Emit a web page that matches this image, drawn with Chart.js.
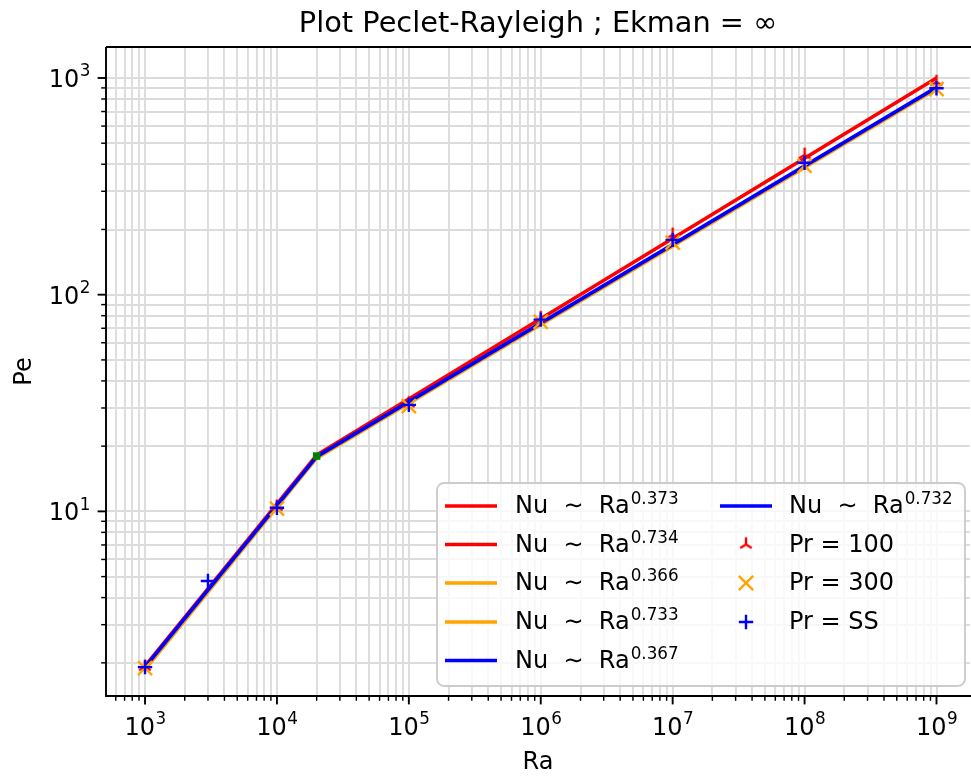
<!DOCTYPE html>
<html>
<head>
<meta charset="utf-8">
<script src="https://cdn.jsdelivr.net/npm/chart.js@4.4.1/dist/chart.umd.min.js"></script>
<style>
  html, body { margin: 0; padding: 0; background: #fff; }
</style>
</head>
<body>
<canvas id="myChart" width="971" height="776"></canvas>
<script>
// Rayleigh numbers of the runs
var ra = [1e3, 3e3, 1e4, 1e5, 1e6, 1e7, 1e8, 1e9];
// Peclet numbers (null = no run at that Ra)
var pePr100 = [1.92, null, 10.5, 31.5, 78, 189, 442, 958];
var pePr300 = [1.89, null, 10.3, 30.6, 75, 174, 393, 890];
var peSS = [1.91, 4.77, 10.4, 31.0, 76.7, 179, 406, 896];

// power law fits, two segments joined at the transition Ra
var fitRa = [1e3, 2e4, 1e9];
var fitPr100 = [1.93, 18.2, 1000];
var fitPr300 = [1.86, 17.6, 890];
var fitSS = [1.91, 17.9, 905];
var expLow = ['0.734', '0.733', '0.732'];
var expHigh = ['0.373', '0.366', '0.367'];

var transitionRa = [2e4];
var transitionPe = [18.0];

// tick labels are 10^n
var xTickExp = [3, 4, 5, 6, 7, 8, 9];
var yTickExp = [1, 2, 3];

var FONT = "'DejaVu Sans', sans-serif";

function pts(xs, ys) {
  var out = [];
  for (var i = 0; i < xs.length; i++) {
    if (ys[i] != null) out.push({x: xs[i], y: ys[i]});
  }
  return out;
}

// matplotlib tri_up marker as an image
function triMarker(color) {
  var c = document.createElement('canvas');
  c.width = 20; c.height = 20;
  var g = c.getContext('2d');
  g.strokeStyle = color;
  g.lineWidth = 2.4;
  g.beginPath();
  g.moveTo(10, 10); g.lineTo(10, 2.8);
  g.moveTo(10, 10); g.lineTo(15.76, 13.6);
  g.moveTo(10, 10); g.lineTo(4.24, 13.6);
  g.stroke();
  return c;
}
var tri = triMarker('#ff0000');

function fitLine(xs, ys, color, text, sup, order) {
  return {
    type: 'line', data: pts(xs, ys), borderColor: color, backgroundColor: color,
    borderWidth: 3.6, pointRadius: 0, tension: 0, fill: false, order: order,
    legendText: text, legendSup: sup, legendKind: 'line'
  };
}
function markers(ys, color, style, radius, text, order) {
  return {
    type: 'line', data: pts(ra, ys), showLine: false, borderColor: color,
    backgroundColor: 'rgba(0,0,0,0)', pointStyle: style, pointRadius: radius,
    pointBorderWidth: 2.4, pointHoverRadius: radius, order: order,
    legendText: text, legendKind: 'marker'
  };
}

var datasets = [
  fitLine(fitRa.slice(1), fitPr100.slice(1), '#ff0000', 'Nu  \u223C  Ra', expHigh[0], 20),
  fitLine(fitRa.slice(0, 2), fitPr100.slice(0, 2), '#ff0000', 'Nu  \u223C  Ra', expLow[0], 19),
  fitLine(fitRa.slice(1), fitPr300.slice(1), '#ffa500', 'Nu  \u223C  Ra', expHigh[1], 18),
  fitLine(fitRa.slice(0, 2), fitPr300.slice(0, 2), '#ffa500', 'Nu  \u223C  Ra', expLow[1], 17),
  fitLine(fitRa.slice(1), fitSS.slice(1), '#0000ff', 'Nu  \u223C  Ra', expHigh[2], 16),
  fitLine(fitRa.slice(0, 2), fitSS.slice(0, 2), '#0000ff', 'Nu  \u223C  Ra', expLow[2], 15),
  markers(pePr100, '#ff0000', tri, 7, 'Pr = 100', 14),
  markers(pePr300, '#ffa500', 'crossRot', 10, 'Pr = 300', 13),
  markers(peSS, '#0000ff', 'cross', 7.2, 'Pr = SS', 12),
  {
    type: 'line', data: pts(transitionRa, transitionPe), showLine: false,
    borderColor: '#008000', backgroundColor: '#008000', pointStyle: 'rect',
    pointRadius: 5.3, pointBorderWidth: 0, order: 11, legendKind: 'none'
  }
];

function isPow10(v) {
  var l = Math.log10(v);
  return Math.abs(l - Math.round(l)) < 1e-9;
}
function logTicks(scale) {
  var t = [];
  var e0 = Math.floor(Math.log10(scale.min)), e1 = Math.ceil(Math.log10(scale.max));
  for (var e = e0; e <= e1; e++) {
    for (var m = 1; m < 10; m++) {
      var v = m * Math.pow(10, e);
      if (v >= scale.min && v <= scale.max) t.push({value: v, major: m === 1});
    }
  }
  scale.ticks = t;
}

function powLabel(ctx, exp, x, y, align) {
  ctx.font = '24px ' + FONT;
  var w1 = ctx.measureText('10').width;
  ctx.font = '16.8px ' + FONT;
  var w2 = ctx.measureText(String(exp)).width;
  var x0 = align === 'center' ? x - (w1 + w2) / 2 : x - (w1 + w2);
  ctx.textAlign = 'left';
  ctx.textBaseline = 'alphabetic';
  ctx.font = '24px ' + FONT;
  ctx.fillText('10', x0, y);
  ctx.font = '16.8px ' + FONT;
  ctx.fillText(String(exp), x0 + w1 + 0.5, y - 10.5);
}

var decor = {
  id: 'decor',
  afterDatasetsDraw: function (chart) {
    var ctx = chart.ctx, a = chart.chartArea;
    var xs = chart.scales.x, ys = chart.scales.y;
    ctx.save();
    ctx.strokeStyle = '#000';
    ctx.fillStyle = '#000';
    // spines
    ctx.lineWidth = 1.9;
    ctx.beginPath();
    ctx.moveTo(a.left, a.top); ctx.lineTo(a.right + 2, a.top);
    ctx.moveTo(a.left, a.top); ctx.lineTo(a.left, a.bottom);
    ctx.lineTo(a.right + 2, a.bottom);
    ctx.stroke();
    // tick marks
    xs.ticks.forEach(function (t) {
      var px = xs.getPixelForValue(t.value);
      var major = isPow10(t.value);
      ctx.lineWidth = major ? 1.9 : 1.45;
      ctx.beginPath();
      ctx.moveTo(px, a.bottom);
      ctx.lineTo(px, a.bottom + (major ? 8.4 : 4.8));
      ctx.stroke();
    });
    ys.ticks.forEach(function (t) {
      var py = ys.getPixelForValue(t.value);
      var major = isPow10(t.value);
      ctx.lineWidth = major ? 1.9 : 1.45;
      ctx.beginPath();
      ctx.moveTo(a.left, py);
      ctx.lineTo(a.left - (major ? 8.4 : 4.8), py);
      ctx.stroke();
    });
    // tick labels
    xTickExp.forEach(function (e) {
      powLabel(ctx, e, xs.getPixelForValue(Math.pow(10, e)), a.bottom + 38.5, 'center');
    });
    yTickExp.forEach(function (e) {
      powLabel(ctx, e, a.left - 16, ys.getPixelForValue(Math.pow(10, e)) + 9, 'right');
    });
    // axis titles
    ctx.font = '24px ' + FONT;
    ctx.textAlign = 'center';
    ctx.textBaseline = 'alphabetic';
    ctx.fillText('Ra', (a.left + a.right) / 2, 769);
    ctx.save();
    ctx.translate(31, (a.top + a.bottom) / 2);
    ctx.rotate(-Math.PI / 2);
    ctx.fillText('Pe', 0, 0);
    ctx.restore();

    // legend, two columns filled column first
    var bx = 437, by = 483, bw = 528, bh = 203, r = 7;
    ctx.beginPath();
    ctx.moveTo(bx + r, by);
    ctx.arcTo(bx + bw, by, bx + bw, by + bh, r);
    ctx.arcTo(bx + bw, by + bh, bx, by + bh, r);
    ctx.arcTo(bx, by + bh, bx, by, r);
    ctx.arcTo(bx, by, bx + bw, by, r);
    ctx.closePath();
    ctx.fillStyle = 'rgba(255,255,255,0.8)';
    ctx.fill();
    ctx.lineWidth = 1.9;
    ctx.strokeStyle = '#cccccc';
    ctx.stroke();

    var items = chart.data.datasets.filter(function (d) { return d.legendKind !== 'none'; });
    var rowY = [506, 544.5, 583, 622, 660.5];
    items.forEach(function (d, i) {
      var col = Math.floor(i / 5), row = i % 5;
      var hx = col === 0 ? 445 : 720;
      var tx = col === 0 ? 515 : 789;
      var y = rowY[row];
      if (d.legendKind === 'line') {
        ctx.strokeStyle = d.borderColor;
        ctx.lineWidth = 3.6;
        ctx.beginPath();
        ctx.moveTo(hx, y); ctx.lineTo(hx + 52, y);
        ctx.stroke();
      } else {
        var cx = hx + 26;
        ctx.strokeStyle = d.borderColor;
        ctx.lineWidth = 2.4;
        if (d.pointStyle === tri) {
          ctx.drawImage(tri, cx - 10, y - 10);
        } else if (d.pointStyle === 'crossRot') {
          ctx.beginPath();
          ctx.moveTo(cx - 7.2, y - 7.2); ctx.lineTo(cx + 7.2, y + 7.2);
          ctx.moveTo(cx - 7.2, y + 7.2); ctx.lineTo(cx + 7.2, y - 7.2);
          ctx.stroke();
        } else {
          ctx.beginPath();
          ctx.moveTo(cx - 7.2, y); ctx.lineTo(cx + 7.2, y);
          ctx.moveTo(cx, y - 7.2); ctx.lineTo(cx, y + 7.2);
          ctx.stroke();
        }
      }
      ctx.fillStyle = '#000';
      ctx.textAlign = 'left';
      ctx.textBaseline = 'alphabetic';
      ctx.font = '24px ' + FONT;
      ctx.fillText(d.legendText, tx, y + 7);
      if (d.legendSup) {
        var w = ctx.measureText(d.legendText).width;
        ctx.font = '16.8px ' + FONT;
        ctx.fillText(d.legendSup, tx + w + 1, y - 2);
      }
    });
    ctx.restore();
  }
};

var ctx = document.getElementById('myChart').getContext('2d');
var chart = new Chart(ctx, {
  type: 'line',
  data: { datasets: datasets },
  options: {
    responsive: false,
    devicePixelRatio: 1,
    animation: false,
    layout: { autoPadding: false, padding: { left: 106, right: 1, top: 0, bottom: 80 } },
    plugins: {
      legend: { display: false },
      tooltip: { enabled: false },
      title: {
        display: true,
        text: 'Plot Peclet-Rayleigh ; Ekman = \u221E',
        color: '#000',
        font: { family: FONT, size: 28.8, weight: 'normal' },
        padding: { top: 7, bottom: 5.44 }
      }
    },
    scales: {
      x: {
        type: 'logarithmic', min: 506, max: 1.795e9,
        afterBuildTicks: logTicks,
        ticks: { display: false },
        border: { display: false },
        grid: { color: '#dcdcdc', lineWidth: 1.9, drawTicks: false }
      },
      y: {
        type: 'logarithmic', min: 1.406, max: 1390,
        afterBuildTicks: logTicks,
        ticks: { display: false },
        border: { display: false },
        grid: { color: '#dcdcdc', lineWidth: 1.9, drawTicks: false }
      }
    }
  },
  plugins: [decor]
});
</script>
</body>
</html>
